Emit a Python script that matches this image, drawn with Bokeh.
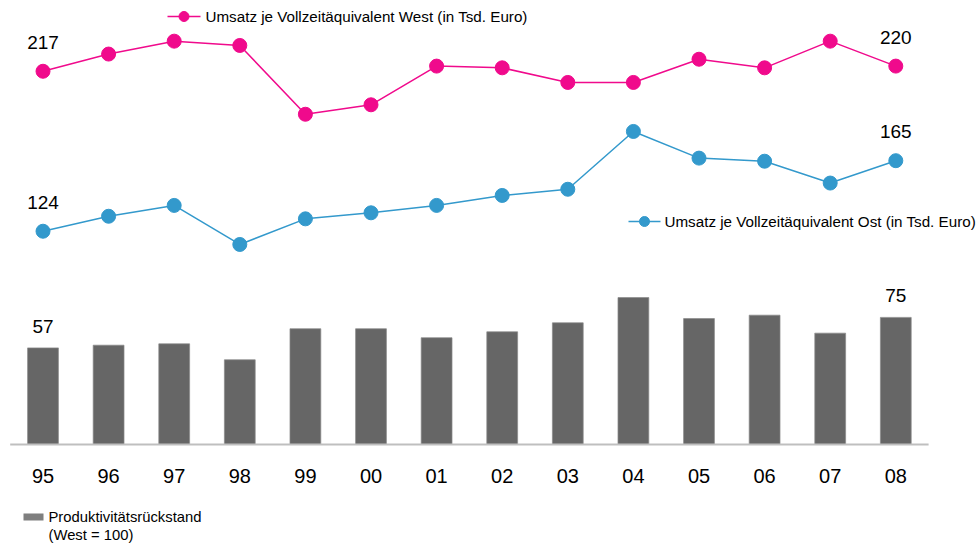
from bokeh.plotting import figure
from bokeh.models import Range1d, ColumnDataSource
from bokeh.core.properties import value
from bokeh.embed import file_html
from bokeh.resources import INLINE

# ---- data ----
years = ["95", "96", "97", "98", "99", "00", "01", "02", "03", "04", "05", "06", "07", "08"]
west = [217, 227, 234.5, 232, 192, 197.5, 220, 219, 210.5, 210.5, 224, 219, 234.5, 220]
ost = [124, 132.7, 139, 116.3, 131.2, 134.7, 139, 144.8, 148.4, 182, 166.5, 164.7, 152, 165]
rueckstand = [57, 58.6, 59.4, 50, 68.3, 68.3, 63, 66.5, 71.8, 86.7, 74.3, 76.3, 65.7, 75]

west_label = "Umsatz je Vollzeitäquivalent West (in Tsd. Euro)"
ost_label = "Umsatz je Vollzeitäquivalent Ost (in Tsd. Euro)"
bar_label = ["Produktivitätsrückstand", "(West = 100)"]

PINK = "#F00A8C"
BLUE = "#3399CC"
BAR = "#666666"
FONT = "Liberation Sans"

# ---- layout constants (canvas px) ----
W, H = 980, 544
X0, STEP = 42.5, 65.6       # first category centre, spacing
BASE = 444                   # baseline
BAR_PX, LINE_PX = 1.695, 1.72

idx = list(range(len(years)))

p = figure(width=W, height=H, output_backend="svg", toolbar_location=None,
           x_axis_location=None, y_axis_location=None, min_border=0,
           x_range=Range1d(-X0 / STEP, (W - X0) / STEP),
           y_range=Range1d(-(H - BASE) / BAR_PX, BASE / BAR_PX))
p.extra_y_ranges = {"lines": Range1d(-(H - BASE) / LINE_PX, BASE / LINE_PX)}
p.outline_line_color = None
p.grid.visible = False
p.background_fill_color = "white"
p.border_fill_color = "white"


def dx(px):  # canvas px -> x data
    return (px - X0) / STEP


def dy(py):  # canvas px -> bar-range data
    return (BASE - py) / BAR_PX


src = ColumnDataSource(dict(x=idx, year=years, west=west, ost=ost, bar=rueckstand))

# bars
p.vbar(x="x", top="bar", bottom=0, width=0.47, source=src, fill_color=BAR, line_color="#8a8a8a",
       line_width=0.7)
# baseline
p.segment(x0=[-0.5], x1=[len(years) - 0.5], y0=[0], y1=[0], line_color="#BFBFBF", line_width=2)

# lines
p.line(x="x", y="west", source=src, line_color=PINK, line_width=1.5, y_range_name="lines")
p.scatter(x="x", y="west", source=src, size=14, fill_color=PINK, line_color=PINK, y_range_name="lines")
p.line(x="x", y="ost", source=src, line_color=BLUE, line_width=1.5, y_range_name="lines")
p.scatter(x="x", y="ost", source=src, size=14, fill_color=BLUE, line_color=BLUE, y_range_name="lines")

# value labels (first and last)
ends = [0, len(years) - 1]
lab_lines = ColumnDataSource(dict(
    x=ends + ends,
    y=[west[i] for i in ends] + [ost[i] for i in ends],
    t=[f"{west[i]:.0f}" for i in ends] + [f"{ost[i]:.0f}" for i in ends]))
p.text(x="x", y="y", text="t", source=lab_lines, y_range_name="lines", y_offset=-29,
       text_align="center", text_baseline="middle", text_font=value(FONT),
       text_font_size="19px", text_color="#000000")
lab_bar = ColumnDataSource(dict(x=ends, y=[rueckstand[i] for i in ends],
                                t=[f"{rueckstand[i]:.0f}" for i in ends]))
p.text(x="x", y="y", text="t", source=lab_bar, y_offset=-21.5,
       text_align="center", text_baseline="middle", text_font=value(FONT),
       text_font_size="19px", text_color="#000000")

# category labels
p.text(x="x", y=0, text="year", source=src, y_offset=31, text_align="center",
       text_baseline="middle", text_font=value(FONT), text_font_size="20px", text_color="#000000")

# legend West
p.segment(x0=[dx(167)], x1=[dx(200)], y0=[dy(16)], y1=[dy(16)], line_color=PINK, line_width=1.5)
p.scatter(x=[dx(183.5)], y=[dy(16)], size=10, fill_color=PINK, line_color=PINK)
p.text(x=[dx(205)], y=[dy(16)], text=[west_label], text_align="left", text_baseline="middle",
       text_font=value(FONT), text_font_size="15.2px", text_color="#000000")

# legend Ost
p.segment(x0=[dx(628)], x1=[dx(660)], y0=[dy(221)], y1=[dy(221)], line_color=BLUE, line_width=1.5)
p.scatter(x=[dx(644)], y=[dy(221)], size=10, fill_color=BLUE, line_color=BLUE)
p.text(x=[dx(664)], y=[dy(221)], text=[ost_label], text_align="left", text_baseline="middle",
       text_font=value(FONT), text_font_size="15.2px", text_color="#000000")

# legend bars
p.quad(left=[dx(23)], right=[dx(43)], top=[dy(513)], bottom=[dy(520)], fill_color="#7F7F7F",
       line_color=None)
p.text(x=[dx(48), dx(48)], y=[dy(516.5), dy(534.5)], text=bar_label, text_align="left",
       text_baseline="middle", text_font=value(FONT), text_font_size="14.8px", text_color="#000000")

open("out.html", "w").write(file_html(p, INLINE))
